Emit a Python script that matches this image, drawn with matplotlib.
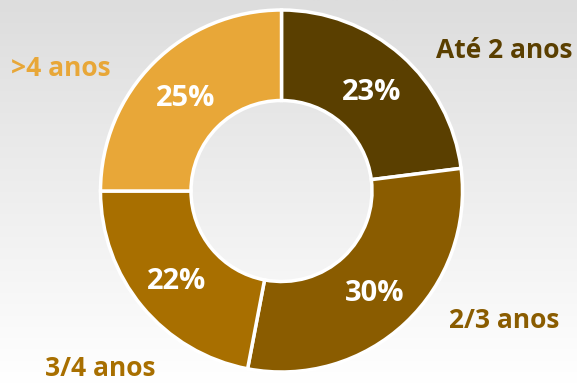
import numpy as np
import matplotlib
matplotlib.use("Agg")
from matplotlib import pyplot as plt

labels = ["Até 2 anos", "2/3 anos", "3/4 anos", ">4 anos"]
values = [23, 30, 22, 25]
colors = ["#5a3f00", "#8a5c00", "#a86f00", "#e8a738"]

plt.rcParams['font.family'] = ['Open Sans', 'DejaVu Sans']

W, H = 577, 384
fig = plt.figure(figsize=(W / 100, H / 100), dpi=100)

# background gradient, light gray at top to white at bottom
bg = fig.add_axes([0, 0, 1, 1])
grad = np.linspace(0, 1, 256).reshape(-1, 1)
bg.imshow(grad, aspect='auto', cmap=matplotlib.colors.LinearSegmentedColormap.from_list('g', ['#dddddd', '#ffffff']),
          extent=[0, 1, 0, 1], origin='upper')
bg.axis('off')

# donut
cx, cy, r = 281.5, 191, 181
half = r * 1.1
ax = fig.add_axes([(cx - half) / W, (H - cy - half) / H, 2 * half / W, 2 * half / H])
wedges, texts, autotexts = ax.pie(values, colors=colors, startangle=90, counterclock=False,
                                  radius=1, autopct='%d%%', pctdistance=0.75,
                                  wedgeprops=dict(width=0.5, edgecolor='white', linewidth=2.5),
                                  textprops=dict(color='white', fontsize=21, fontweight='bold'))
for t in autotexts:
    t.set_va('center_baseline')
ax.set_xlim(-1.1, 1.1)
ax.set_ylim(-1.1, 1.1)
ax.set_aspect('equal')
ax.axis('off')

# category labels
label_pos = [(504, 48), (504, 318), (100, 366), (61, 65)]
for lab, col, (x, y) in zip(labels, colors, label_pos):
    fig.text(x / W, 1 - y / H, lab, color=col, fontsize=19, fontweight='bold',
             ha='center', va='center_baseline')

fig.savefig("out.png", dpi=100)
